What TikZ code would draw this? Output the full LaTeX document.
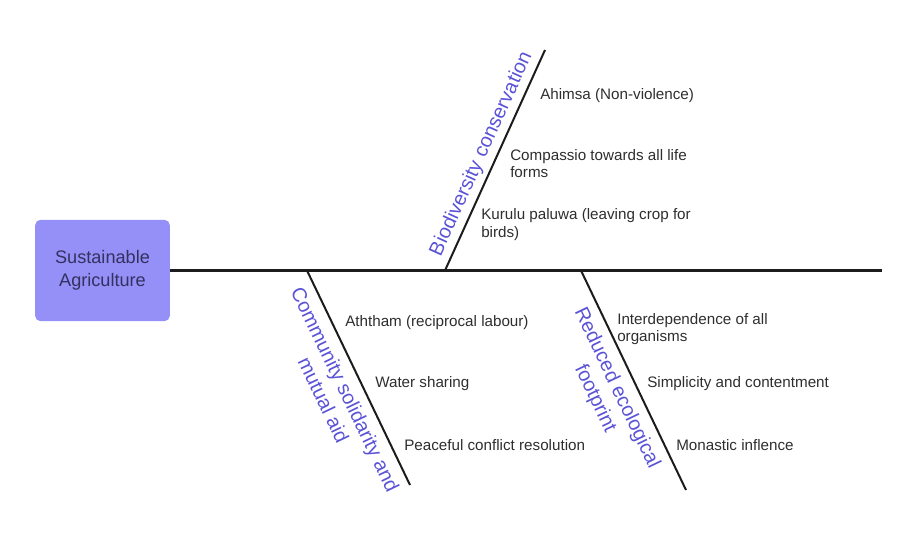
\documentclass[tikz,border=0pt]{standalone}
\usepackage{fontspec}
\setmainfont{Liberation Sans}
\usetikzlibrary{positioning}
\definecolor{fishHead}{HTML}{9590F7}
\definecolor{fishHeadInk}{HTML}{33315F}
\definecolor{fishCause}{HTML}{5B53D6}
\definecolor{fishInk}{HTML}{1C1C1C}
\tikzset{
    head/.style={fill=fishHead, rounded corners=4pt, align=center, minimum width=101pt, minimum height=76pt, text=fishHeadInk, font=\fontsize{13.6}{17}\selectfont},
    spine/.style={line width=1.6pt, draw=fishInk},
    bone/.style={line width=1.5pt, draw=fishInk},
    cause/.style={sloped, align=center, text=fishCause, font=\fontsize{15}{18}\selectfont},
    item/.style={anchor=west, align=left, inner sep=0pt, text=fishInk!92, font=\fontsize{11.4}{13}\selectfont}
}
\begin{document}
\begin{tikzpicture}[x=0.75pt, y=-0.75pt]
\useasboundingbox (0,0) rectangle (924,549);

% head and spine
\node[head] (agri) at (102.5,270.5) {Sustainable\\Agriculture};
\coordinate (tail) at (882,270.5);
\draw[spine] (agri.east) -- (tail);

% bones
\coordinate (bioS) at (445,270.5);
\coordinate (bioE) at (545,50);
\coordinate (comS) at (307,270.5);
\coordinate (comE) at (410,485);
\coordinate (redS) at (581,270.5);
\coordinate (redE) at (686,490);
\draw[bone] (bioS) -- node[cause, above, pos=0.5] (bio) {Biodiversity conservation} (bioE);
\draw[bone] (comS) -- node[cause, below=3pt, pos=0.52] (com) {Community solidarity and\\mutual aid} (comE);
\draw[bone] (redS) -- node[cause, below=3pt, pos=0.5] (red) {Reduced ecological\\footprint} (redE);

% causes
\node[item] (ahimsa) at (540,96) {Ahimsa (Non-violence)};
\node[item] (compassio) at (510,163.5) {Compassio towards all life\\forms};
\node[item] (kurulu) at (481,224.5) {Kurulu paluwa (leaving crop for\\birds)};
\node[item] (aththam) at (345,323) {Aththam (reciprocal labour)};
\node[item] (water) at (375,384) {Water sharing};
\node[item] (peace) at (404,445) {Peaceful conflict resolution};
\node[item] (interdep) at (617,329) {Interdependence of all\\organisms};
\node[item] (simple) at (647,384) {Simplicity and contentment};
\node[item] (monastic) at (676,445) {Monastic inflence};
\end{tikzpicture}
\end{document}
